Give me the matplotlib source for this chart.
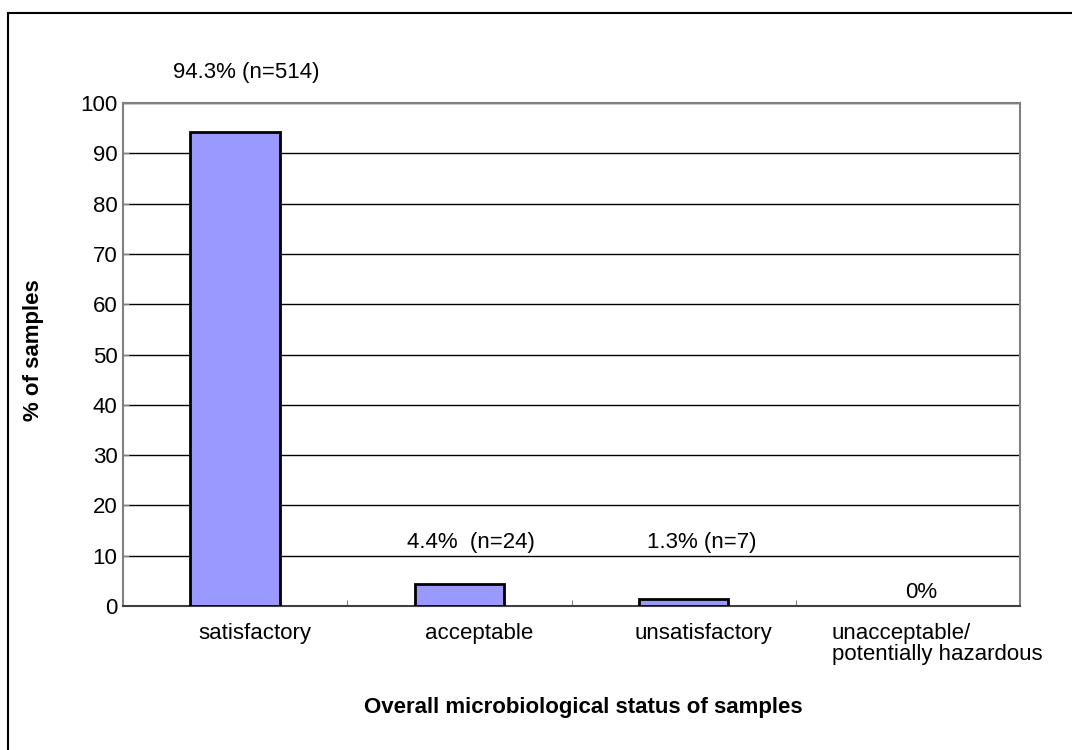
import matplotlib
matplotlib.use("Agg")
import matplotlib.pyplot as plt
from matplotlib.lines import Line2D

plt.rcParams["font.family"] = ["Liberation Sans", "DejaVu Sans"]

categories = ["satisfactory", "acceptable", "unsatisfactory",
              "unacceptable/\npotentially hazardous"]
percent = [94.3, 4.4, 1.3, 0.0]
value_labels = ["94.3% (n=514)", "4.4%  (n=24)", "1.3% (n=7)", "0%"]

# where the value labels sit (x offset from bar centre, y in data units)
label_dx = [0.05, 0.05, 0.08, 0.06]
label_y = [106.0, 12.6, 12.6, 2.6]
# category label offsets
cat_dx = [0.09, 0.09, 0.09, 0.13]


def main():
    fig = plt.figure(figsize=(10.72, 7.5), dpi=100)
    # outer frame, only top and left edges show in the original
    fig.lines.append(Line2D([7.5 / 1072, 1.0], [1 - 12.5 / 750] * 2,
                            transform=fig.transFigure, color="black", linewidth=1.5))
    fig.lines.append(Line2D([7.5 / 1072] * 2, [0.0, 1 - 12.5 / 750],
                            transform=fig.transFigure, color="black", linewidth=1.5))

    ax = fig.add_axes([123 / 1072, 1 - 606 / 750, 897 / 1072, 503 / 750])

    x = range(len(categories))
    lws = [2 if v > 0 else 0 for v in percent]
    ax.bar(x, percent, width=0.4, color="#9999FF", edgecolor="black",
           linewidth=lws, zorder=3)

    ax.set_xlim(-0.5, len(categories) - 0.5)
    ax.set_ylim(0, 100)
    ax.set_yticks(range(0, 101, 10))
    ax.yaxis.grid(True, color="black", linewidth=1)
    ax.set_axisbelow(True)
    ax.tick_params(axis="y", labelsize=16, length=4, direction="in",
                   color="#808080", pad=4)

    ax.set_xticks([0.5, 1.5, 2.5])
    ax.set_xticklabels([])
    ax.tick_params(axis="x", direction="in", length=4, color="#808080")

    for s in ax.spines.values():
        s.set_color("#808080")
        s.set_linewidth(1.5)
    ax.spines["bottom"].set_color("#404040")

    for i, cat in enumerate(categories):
        ax.text(i + cat_dx[i], -3.3, cat, ha="center", va="top", fontsize=16,
                multialignment="left", linespacing=1.0)

    for i, lab in enumerate(value_labels):
        ax.text(i + label_dx[i], label_y[i], lab, ha="center", va="center",
                fontsize=16)

    fig.text(33 / 1072, 1 - 350 / 750, "% of samples", rotation=90, ha="center",
             va="center", fontsize=16, fontweight="bold")
    fig.text(583 / 1072, 1 - 708 / 750, "Overall microbiological status of samples",
             ha="center", va="center", fontsize=16, fontweight="bold")

    fig.savefig("out.png", dpi=100)


if __name__ == "__main__":
    main()
